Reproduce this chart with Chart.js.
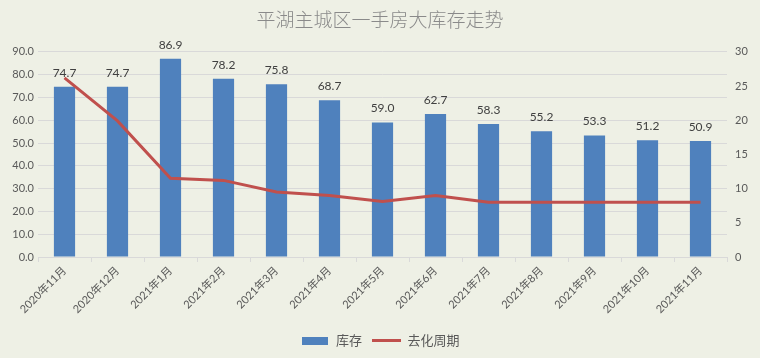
<!DOCTYPE html>
<html><head><meta charset="utf-8">
<script src="https://cdn.jsdelivr.net/npm/chart.js@4.4.0/dist/chart.umd.min.js"></script>
<style>html,body{margin:0;padding:0;background:#eef0e5;}#wrap{width:760px;height:358px;}</style>
</head><body><div id="wrap"><canvas id="c" width="760" height="358"></canvas></div>
<script>
const categories = ['2020年11月','2020年12月','2021年1月','2021年2月','2021年3月','2021年4月','2021年5月','2021年6月','2021年7月','2021年8月','2021年9月','2021年10月','2021年11月'];
const inventory = [74.7,74.7,86.9,78.2,75.8,68.7,59.0,62.7,58.3,55.2,53.3,51.2,50.9];
const cycle = [26.2,19.9,11.5,11.2,9.5,9.0,8.1,9.0,8.0,8.0,8.0,8.0,8.0];
const leftTicks = {min:0, max:90, step:10};
const rightTicks = {min:0, max:30, step:5};
const titleText = '平湖主城区一手房大库存走势';
const seriesNames = ['库存','去化周期'];

const BAR = '#4f81bd', LINE = '#c0504d', TXT = '#595959', GRID = '#d9d9d9';
const FONT = "Lato, 'Noto Sans CJK SC', sans-serif";

function mkIcon(w,h,color){const c=document.createElement('canvas');c.width=w;c.height=h;const x=c.getContext('2d');x.fillStyle=color;x.fillRect(0,0,w,h);return c;}
const barIcon = mkIcon(26,8,BAR), lineIcon = mkIcon(29,3,LINE);

const bgPlugin = {id:'bg', beforeDraw(chart){const {ctx}=chart;ctx.save();ctx.fillStyle='#eef0e5';ctx.fillRect(0,0,chart.width,chart.height);ctx.restore();}};
const valuePlugin = {id:'vals', afterDatasetsDraw(chart){
  const meta = chart.getDatasetMeta(0); const {ctx}=chart;
  ctx.save(); ctx.font = "12px " + FONT; ctx.fillStyle='#404040'; ctx.textAlign='center'; ctx.textBaseline='middle';
  meta.data.forEach((el,i)=>{ ctx.fillText(inventory[i].toFixed(1), el.x, el.y-14); });
  ctx.restore();
}};

new Chart(document.getElementById('c'), {
  data: {
    labels: categories,
    datasets: [
      {type:'bar', label:seriesNames[0], data:inventory, backgroundColor:BAR, yAxisID:'y', order:1, categoryPercentage:1, barPercentage:0.4},
      {type:'line', label:seriesNames[1], data:cycle, borderColor:LINE, backgroundColor:LINE, borderWidth:3, pointRadius:0, tension:0, yAxisID:'y1', order:0}
    ]
  },
  options: {
    responsive:false, animation:false,
    layout:{padding:{left:0,right:0,top:0,bottom:1}},
    plugins:{
      title:{display:true, text:titleText, color:'#8a8a8a', font:{family:"'Noto Sans CJK SC', sans-serif", size:19, weight:'300'}, padding:{top:8,bottom:21}},
      legend:{position:'bottom', labels:{usePointStyle:true, pointStyleWidth:29, color:TXT, font:{family:FONT,size:13}, padding:10,
        generateLabels(){return [
          {text:seriesNames[0], pointStyle:barIcon, fillStyle:BAR, strokeStyle:BAR, lineWidth:0, datasetIndex:0, fontColor:TXT},
          {text:seriesNames[1], pointStyle:lineIcon, fillStyle:LINE, strokeStyle:LINE, lineWidth:0, datasetIndex:1, fontColor:TXT}
        ];}}},
      tooltip:{enabled:false}
    },
    scales:{
      x:{grid:{offset:true, drawOnChartArea:false, color:GRID, tickLength:5}, border:{display:true,color:GRID},
         ticks:{color:TXT, font:{family:FONT,size:11}, maxRotation:45, minRotation:45, padding:2},
         afterFit(s){s.height=67;}},
      y:{position:'left', min:leftTicks.min, max:leftTicks.max, grid:{color:GRID, drawTicks:false}, border:{display:false},
         ticks:{stepSize:leftTicks.step, color:TXT, font:{family:FONT,size:11}, padding:4, callback:v=>v.toFixed(1)},
         afterFit(s){s.width=38;}},
      y1:{position:'right', min:rightTicks.min, max:rightTicks.max, grid:{drawOnChartArea:false, drawTicks:false}, border:{display:false},
         ticks:{stepSize:rightTicks.step, color:TXT, font:{family:FONT,size:11}, padding:8},
         afterFit(s){s.width=33;}}
    }
  },
  plugins:[bgPlugin, valuePlugin]
});
</script></body></html>
